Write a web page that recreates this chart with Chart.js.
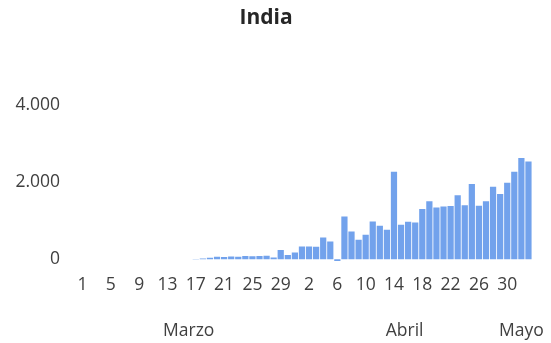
<!DOCTYPE html>
<html>
<head>
<meta charset="utf-8">
<script src="https://cdn.jsdelivr.net/npm/chart.js@4/dist/chart.umd.min.js"></script>
<style>
  html, body { margin: 0; padding: 0; background: #ffffff; }
  #wrap { width: 551px; height: 343px; }
</style>
</head>
<body>
<div id="wrap"><canvas id="c" width="551" height="343"></canvas></div>
<script>
// Day-of-month tick labels: 1 Mar .. 3 May
const dayLabels = [
  '1','2','3','4','5','6','7','8','9','10','11','12','13','14','15','16','17','18','19','20','21','22','23','24','25','26','27','28','29','30','31',
  '1','2','3','4','5','6','7','8','9','10','11','12','13','14','15','16','17','18','19','20','21','22','23','24','25','26','27','28','29','30',
  '1','2','3'
];
const monthNames = ['Marzo', 'Abril', 'Mayo'];
const yTickValues = [0, 2000, 4000];

// Daily new cases
const newCases = [
  0, 0, 0, 0, 0, 0, 0, 0, 0, 0, 0, 0, 0, 0, 0, 0, 5,
  20, 35, 60, 55, 70, 65, 80, 75, 85, 90, 40, 240, 110, 170,
  330, 330, 320, 565, 456, -50, 1110, 720, 505, 635, 980, 870, 765, 2270, 895, 975, 955,
  1300, 1505, 1345, 1370, 1380, 1660, 1400, 1955, 1385, 1505, 1880, 1695, 1985, 2270,
  2630, 2540
];

const fontFamily = '"Open Sans", "Liberation Sans", sans-serif';
const textColor = '#404040';

function fmtThousands(v) {
  return String(Math.round(v)).replace(/\B(?=(\d{3})+(?!\d))/g, '.');
}

const monthLabelPlugin = {
  id: 'monthLabels',
  afterDraw(chart) {
    const xs = chart.scales.x;
    const ctx = chart.ctx;
    // build month groups: a new month starts where the day label is '1'
    const groups = [];
    dayLabels.forEach((d, i) => {
      if (d === '1') groups.push({ start: i, end: i });
      else groups[groups.length - 1].end = i;
    });
    ctx.save();
    ctx.font = '17.5px ' + fontFamily;
    ctx.fillStyle = textColor;
    ctx.textAlign = 'center';
    ctx.textBaseline = 'middle';
    groups.forEach((g, k) => {
      const x = (xs.getPixelForValue(g.start) + xs.getPixelForValue(g.end)) / 2;
      ctx.fillText(monthNames[k], x, xs.bottom + 23);
    });
    ctx.restore();
  }
};

new Chart(document.getElementById('c'), {
  type: 'bar',
  data: {
    labels: dayLabels,
    datasets: [{
      data: newCases,
      backgroundColor: '#72a2ec',
      borderWidth: 0,
      barPercentage: 0.88,
      categoryPercentage: 1.0
    }]
  },
  options: {
    responsive: false,
    animation: false,
    devicePixelRatio: 1,
    layout: { padding: { top: 0, right: 19, bottom: 35, left: 0 } },
    plugins: {
      legend: { display: false },
      tooltip: { enabled: false },
      title: {
        display: true,
        text: 'India',
        color: '#262626',
        font: { family: fontFamily, size: 21, weight: 'bold' },
        padding: { top: 5, bottom: 75 }
      }
    },
    scales: {
      x: {
        grid: { display: false, drawTicks: false, tickLength: 0 },
        border: { display: false },
        ticks: {
          autoSkip: false,
          maxRotation: 0,
          minRotation: 0,
          padding: 12,
          color: textColor,
          font: { family: fontFamily, size: 17.5 },
          callback: (v, i) => (i % 4 === 0 ? dayLabels[i] : '')
        }
      },
      y: {
        min: -100,
        max: 4000,
        grid: { display: false, drawTicks: false, tickLength: 0 },
        border: { display: false },
        afterBuildTicks: (scale) => { scale.ticks = yTickValues.map(v => ({ value: v })); },
        afterFit: (scale) => { scale.width = 79; },
        ticks: {
          padding: 19,
          color: textColor,
          font: { family: fontFamily, size: 17.5 },
          callback: (v) => fmtThousands(v)
        }
      }
    }
  },
  plugins: [monthLabelPlugin]
});
</script>
</body>
</html>
